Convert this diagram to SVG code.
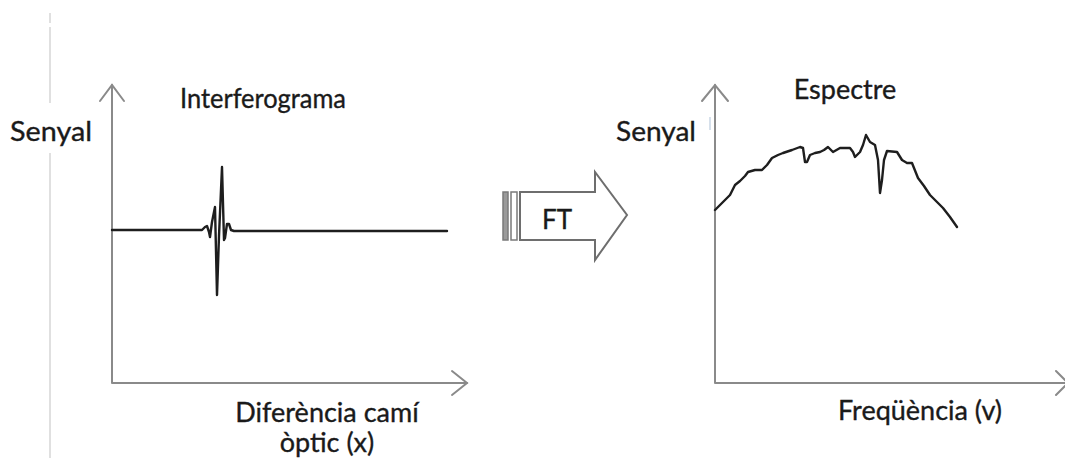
<svg xmlns="http://www.w3.org/2000/svg" width="1065" height="461" viewBox="0 0 1065 461">
  <style>
    .axis { fill: none; stroke: #8a8a8a; stroke-width: 2; stroke-linecap: round; stroke-linejoin: round; }
    .head { fill: none; stroke: #8a8a8a; stroke-width: 2; stroke-linecap: round; stroke-linejoin: miter; }
    .trace { fill: none; stroke: #1e1e1e; stroke-width: 2.4; stroke-linejoin: round; stroke-linecap: round; }
    .lbl { font-family: Lato, "Liberation Sans", sans-serif; font-size: 27px; fill: #1a1a1a; stroke: #1a1a1a; stroke-width: 0.35; }
    .guide { stroke: #d6d6d6; stroke-width: 1.5; }
  </style>
  <rect width="1065" height="461" fill="#ffffff"/>

  <!-- faint margin guide -->
  <g id="guide">
    <line class="guide" x1="50" y1="13" x2="50" y2="23"/>
    <line class="guide" x1="50" y1="27" x2="50" y2="103"/>
    <line class="guide" x1="50" y1="153" x2="50" y2="458"/>
    <line x1="710" y1="117" x2="710" y2="130" stroke="#c9d6e4" stroke-width="1.5"/>
  </g>

  <!-- left plot: interferogram -->
  <g id="interferogram-plot">
    <polyline class="axis" points="112,85 112,383 467,383"/>
    <polyline class="head" points="100,101 112,85 124,101"/>
    <polyline class="head" points="452,371 467,383 452,395"/>
    <path class="trace" d="M112,230 L202,230 L205,227 L207,226 L209,232 L210,237 L212,222 L215,207 L217,295 L219,236 L222,167 L224,240 L225,238 L227,224 L229,224 L231,230 L234,231 L447,231"/>
    <text class="lbl" x="180" y="108" textLength="166" lengthAdjust="spacingAndGlyphs">Interferograma</text>
    <text class="lbl" x="10" y="141" textLength="82" lengthAdjust="spacingAndGlyphs">Senyal</text>
    <text class="lbl" x="327" y="422" text-anchor="middle">Diferència camí</text>
    <text class="lbl" x="327" y="452" text-anchor="middle">òptic (x)</text>
  </g>

  <!-- Fourier transform arrow -->
  <g id="ft-arrow">
    <rect x="503" y="192" width="5" height="48" fill="#9a9a9a" stroke="#7a7a7a" stroke-width="1.5"/>
    <rect x="511" y="192" width="6" height="48" fill="#ffffff" stroke="#7a7a7a" stroke-width="1.5"/>
    <path d="M520,192 L595,192 L595,172 L627,215 L595,260 L595,240 L520,240 Z" fill="#ffffff" stroke="#6e6e6e" stroke-width="2" stroke-linejoin="miter"/>
    <text class="lbl" x="557" y="229" text-anchor="middle" style="font-size:26px">FT</text>
  </g>

  <!-- right plot: spectrum -->
  <g id="spectrum-plot">
    <polyline class="axis" points="715,85 715,383 1068,383"/>
    <polyline class="head" points="702,101 715,85 728,101"/>
    <polyline class="head" points="1056,371 1068,383 1056,395"/>
    <path class="trace" d="M715,210 L730,195 L735,185 L740,181 L745,176 L748,172 L755,170 L762,170 L767,165 L772,158 L778,155 L783,153 L792,150 L800,147 L803,148 L805,162 L807,162 L810,155 L815,153 L820,152 L824,150 L828,147 L833,152 L840,148 L850,148 L853,152 L855,157 L860,152 L863,145 L866,135 L870,142 L875,145 L878,160 L880,193 L882,180 L884,160 L887,151 L897,152 L902,160 L907,163 L912,163 L918,178 L924,186 L930,195 L937,202 L943,208 L950,217 L957,227"/>
    <text class="lbl" x="845" y="99" text-anchor="middle">Espectre</text>
    <text class="lbl" x="656" y="141" text-anchor="middle" textLength="80" lengthAdjust="spacingAndGlyphs">Senyal</text>
    <text class="lbl" x="920" y="420" text-anchor="middle">Freqüència (v)</text>
  </g>
</svg>
